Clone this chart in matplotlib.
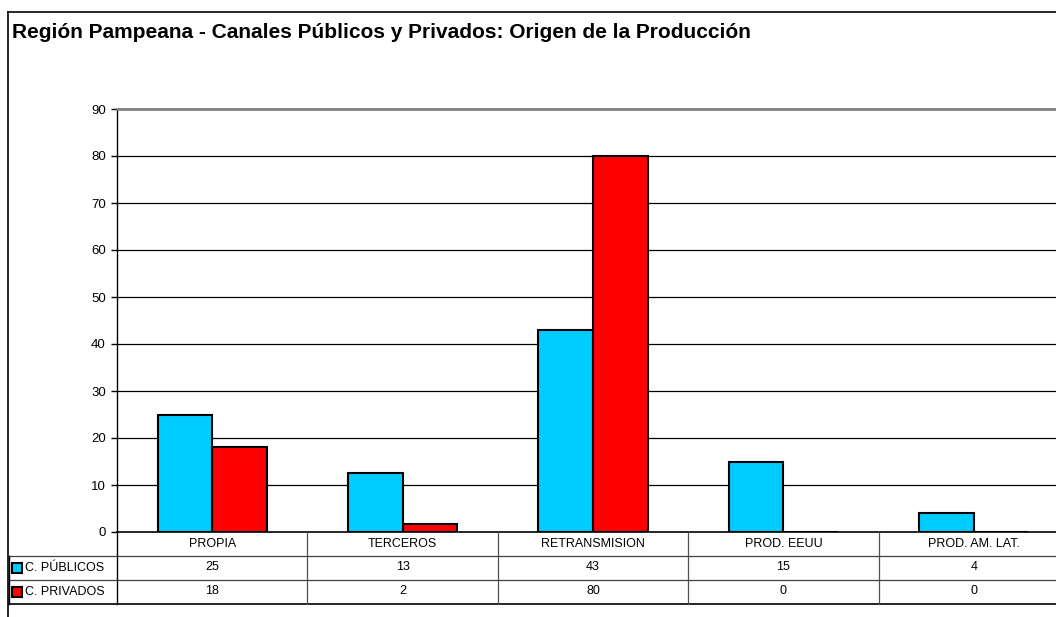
import matplotlib
matplotlib.use('Agg')
import matplotlib.pyplot as plt
import numpy as np
from matplotlib.patches import Rectangle

plt.rcParams['font.family'] = ['Liberation Sans', 'DejaVu Sans']

categories = ['PROPIA', 'TERCEROS', 'RETRANSMISION', 'PROD. EEUU', 'PROD. AM. LAT.']
publicos = [25, 12.5, 43, 15, 4]
privados = [18, 1.6, 80, 0, 0]
publicos_tabla = ['25', '13', '43', '15', '4']
privados_tabla = ['18', '2', '80', '0', '0']
series_names = ['C. PÚBLICOS', 'C. PRIVADOS']
colors = ['#00CCFF', '#FF0000']

W, H = 1056, 617
fig = plt.figure(figsize=(W / 100, H / 100), dpi=100)

# outer chart frame (only left/top visible in the crop)
fig.add_artist(plt.Line2D([8 / W, 8 / W], [0, 1 - 12 / H], color='black', lw=1.2))
fig.add_artist(plt.Line2D([8 / W, 1], [1 - 12 / H, 1 - 12 / H], color='black', lw=1.2))

fig.text(12 / W, 1 - 32 / H, 'Región Pampeana - Canales Públicos y Privados: Origen de la Producción',
         fontsize=15, fontweight='bold', va='center', ha='left')

left, right = 117, 1069
top, bottom = 109, 532
ax = fig.add_axes([left / W, 1 - bottom / H, (right - left) / W, (bottom - top) / H])

x = np.arange(len(categories))
bw = 0.287
ax.bar(x - bw / 2, publicos, bw, color=colors[0], edgecolor='black', linewidth=1.5, zorder=3)
ax.bar(x + bw / 2, privados, bw, color=colors[1], edgecolor='black', linewidth=1.5, zorder=3)

ax.set_xlim(-0.5, len(categories) - 0.5)
ax.set_ylim(0, 90)
ax.set_yticks(range(0, 91, 10))
ax.set_xticks([])
ax.tick_params(axis='y', labelsize=9.5, length=4, width=1, direction='out', pad=4)
for y in range(10, 90, 10):
    ax.axhline(y, color='black', lw=0.9, zorder=1)
ax.spines['top'].set_color('#808080')
ax.spines['top'].set_linewidth(2)
ax.spines['left'].set_linewidth(1)
ax.spines['bottom'].set_linewidth(1.2)

# data table under the chart
fy = lambda py: 1 - py / H
fx = lambda px: px / W
cell_lw = 0.9
fig.add_artist(plt.Line2D([fx(9), fx(right)], [fy(556), fy(556)], color='#404040', lw=cell_lw))
fig.add_artist(plt.Line2D([fx(9), fx(right)], [fy(580), fy(580)], color='#404040', lw=cell_lw))
fig.add_artist(plt.Line2D([fx(9), fx(right)], [fy(604), fy(604)], color='black', lw=1.2))
fig.add_artist(plt.Line2D([fx(9), fx(9)], [fy(556), fy(604)], color='black', lw=1))
fig.add_artist(plt.Line2D([fx(left), fx(left)], [fy(532), fy(604)], color='black', lw=1))
colw = (right - left) / len(categories)
for i in range(1, len(categories)):
    xp = left + i * colw
    fig.add_artist(plt.Line2D([fx(xp), fx(xp)], [fy(532), fy(604)], color='#505050', lw=cell_lw))

for i, cat in enumerate(categories):
    cx = fx(left + (i + 0.5) * colw)
    fig.text(cx, fy(544), cat, ha='center', va='center', fontsize=9)
    fig.text(cx, fy(567), publicos_tabla[i], ha='center', va='center', fontsize=9)
    fig.text(cx, fy(591), privados_tabla[i], ha='center', va='center', fontsize=9)

for j, (name, c) in enumerate(zip(series_names, colors)):
    yc = 568 + 24 * j
    fig.add_artist(Rectangle((fx(12), fy(yc + 5)), 10 / W, 10 / H, facecolor=c,
                             edgecolor='black', lw=1.5))
    fig.text(fx(25), fy(yc), name, ha='left', va='center', fontsize=9)

fig.savefig('out.png', dpi=100)
